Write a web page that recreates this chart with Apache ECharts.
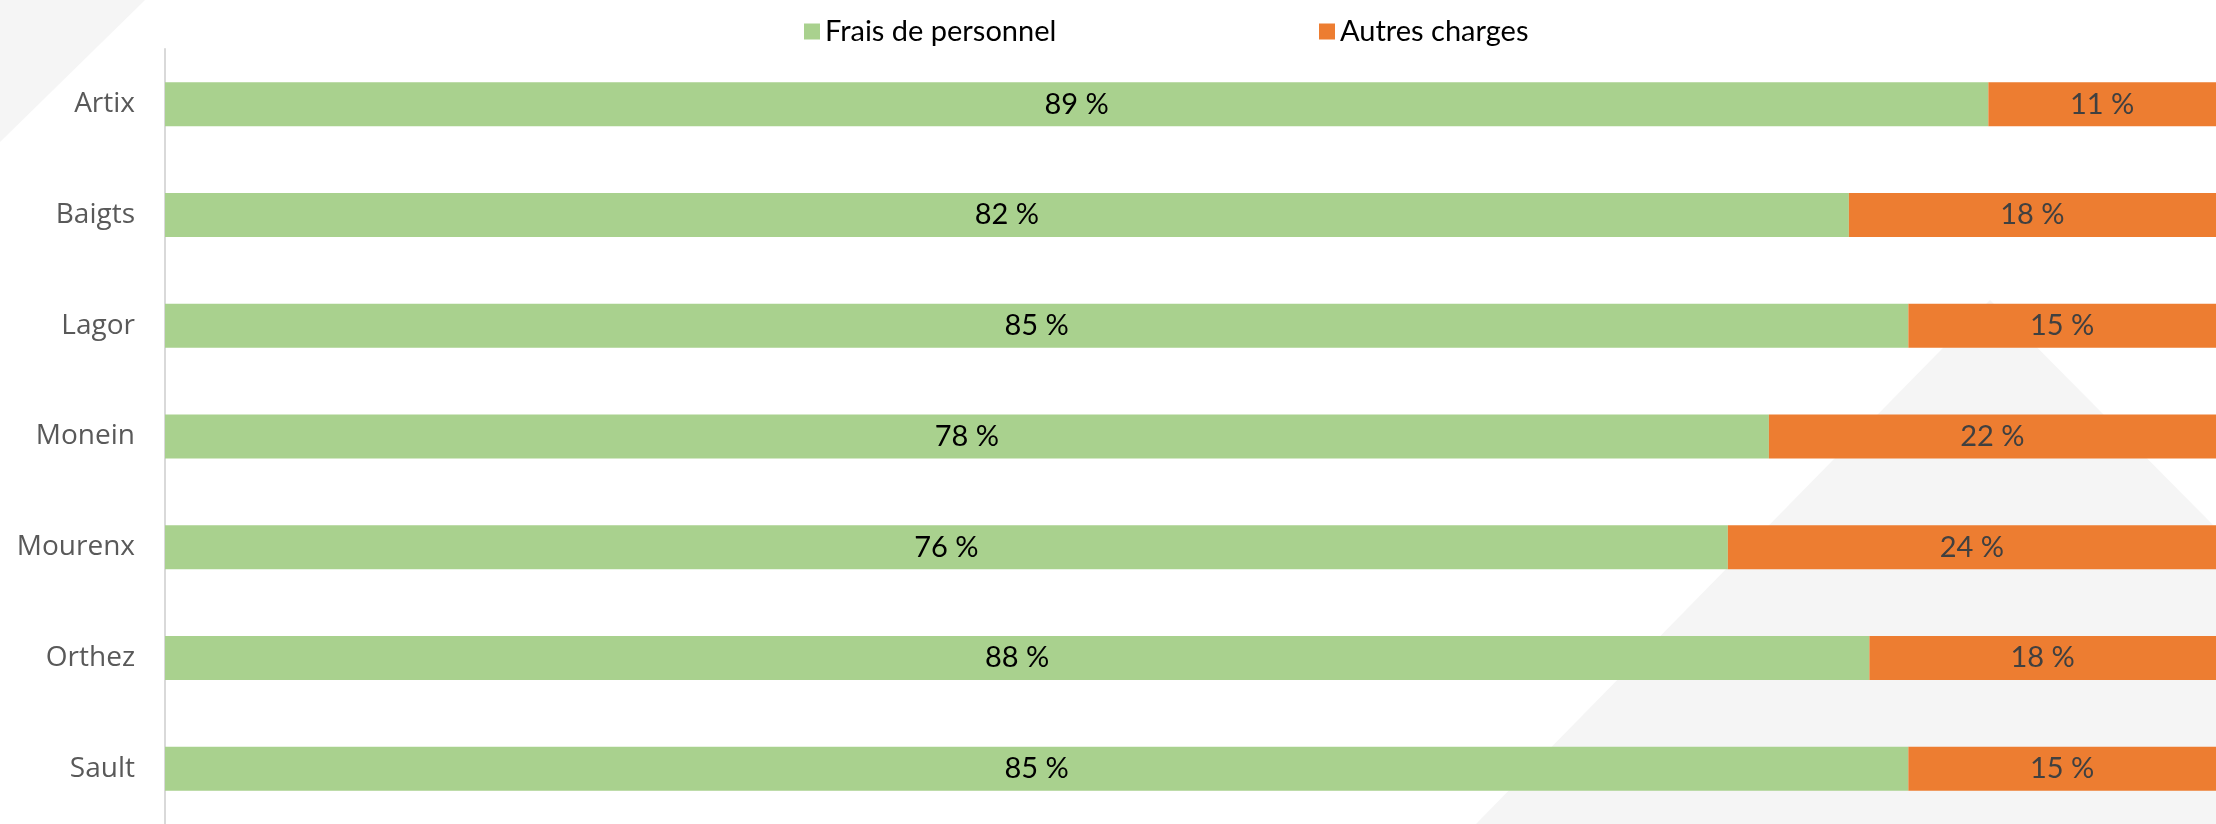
<!DOCTYPE html>
<html>
<head>
<meta charset="utf-8">
<title>Frais de personnel / Autres charges</title>
<script src="https://cdn.jsdelivr.net/npm/echarts@6/dist/echarts.min.js"></script>
<style>
  html, body { margin: 0; padding: 0; background: #ffffff; }
  #chart { width: 2216px; height: 824px; }
</style>
</head>
<body>
<div id="chart"></div>
<script>
// communes (top to bottom)
const categories = ['Artix', 'Baigts', 'Lagor', 'Monein', 'Mourenx', 'Orthez', 'Sault'];
// bar lengths (%)
const personnel = [88.9, 82.1, 85.0, 78.2, 76.2, 83.1, 85.0];
const autres = [11.1, 17.9, 15.0, 21.8, 23.8, 16.9, 15.0];
// labels as printed on the bars
const personnelLabels = ['89 %', '82 %', '85 %', '78 %', '76 %', '88 %', '85 %'];
const autresLabels = ['11 %', '18 %', '15 %', '22 %', '24 %', '18 %', '15 %'];

var chart = echarts.init(document.getElementById('chart'));

var option = {
  animation: false,
  backgroundColor: '#ffffff',
  // light grey decorative triangles behind the plot
  graphic: {
    elements: [
      {
        type: 'polygon', z: -10, silent: true,
        shape: { points: [[0, 0], [145, 0], [0, 142]] },
        style: { fill: '#f5f5f5' }
      },
      {
        type: 'polygon', z: -10, silent: true,
        shape: { points: [[1990, 300], [2216, 528], [2216, 824], [1476, 824]] },
        style: { fill: '#f5f5f5' }
      }
    ]
  },
  legend: [
    {
      data: ['Frais de personnel'],
      left: 799, top: 12,
      icon: 'rect', itemWidth: 16, itemHeight: 16,
      textStyle: { fontFamily: 'Lato', fontSize: 29, color: '#000000' }
    },
    {
      data: ['Autres charges'],
      left: 1314, top: 12,
      icon: 'rect', itemWidth: 16, itemHeight: 16,
      textStyle: { fontFamily: 'Lato', fontSize: 29, color: '#000000' }
    }
  ],
  grid: { left: 165, top: 49, width: 2062, height: 779 },
  xAxis: {
    type: 'value',
    min: 0,
    max: 100,
    show: false
  },
  yAxis: {
    type: 'category',
    inverse: true,
    data: categories,
    axisTick: { show: false },
    axisLine: { show: true, lineStyle: { color: '#d9d9d9', width: 2 } },
    axisLabel: {
      margin: 30,
      fontFamily: 'Open Sans',
      fontSize: 28,
      color: '#595959'
    }
  },
  series: [
    {
      name: 'Frais de personnel',
      type: 'bar',
      stack: 'total',
      barWidth: 44,
      itemStyle: { color: '#a9d18e' },
      label: {
        show: true,
        position: 'inside',
        fontFamily: 'Lato',
        fontSize: 29,
        color: '#000000',
        formatter: function (p) { return personnelLabels[p.dataIndex]; }
      },
      emphasis: { disabled: true },
      data: personnel
    },
    {
      name: 'Autres charges',
      type: 'bar',
      stack: 'total',
      barWidth: 44,
      itemStyle: { color: '#ed7d31' },
      label: {
        show: true,
        position: 'inside',
        fontFamily: 'Lato',
        fontSize: 29,
        color: '#404040',
        formatter: function (p) { return autresLabels[p.dataIndex]; }
      },
      emphasis: { disabled: true },
      data: autres
    }
  ]
};

chart.setOption(option);
</script>
</body>
</html>
